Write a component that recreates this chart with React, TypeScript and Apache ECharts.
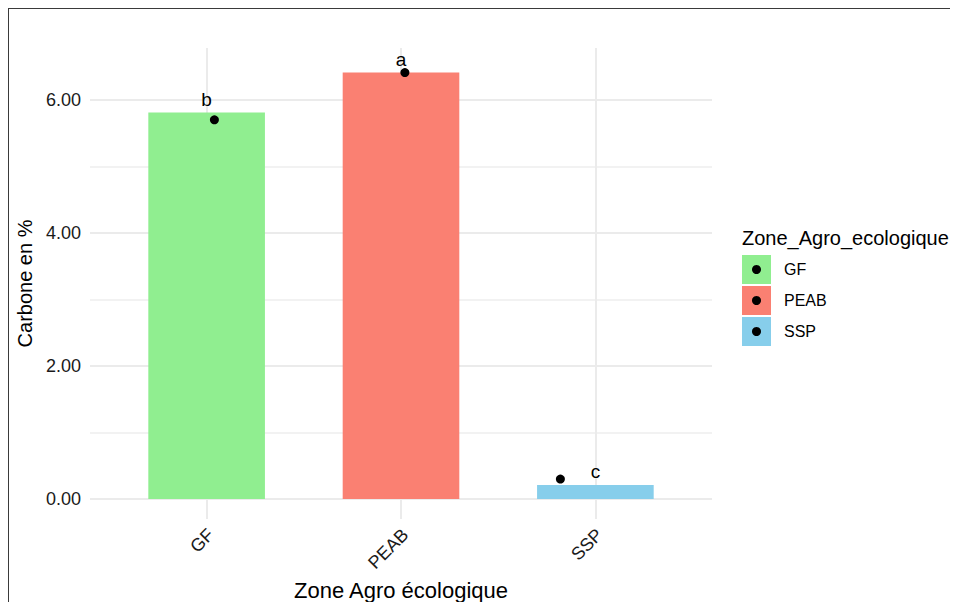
import React, { useEffect, useRef } from "react";
import * as echarts from "echarts";

const categories = ["GF", "PEAB", "SSP"];
const meanValues = [5.81, 6.41, 0.21];
const pointX = [1.04, 2.02, 2.82];
const pointValues = [5.7, 6.41, 0.3];
const letters = ["b", "a", "c"];
const colors = ["#90EE90", "#FA8072", "#87CEEB"];
const yMajor = [0, 2, 4, 6];
const yMinor = [1, 3, 5];
const xPositions = [1, 2, 3];

const FONT = "Liberation Sans, Arial, Helvetica, sans-serif";

export default function App() {
  const ref = useRef<HTMLDivElement>(null);
  useEffect(() => {
    if (!ref.current) return;
    const chart = echarts.init(ref.current, undefined, { renderer: "svg" });

    const legendLeft = 733;
    const legendTop = 246;
    const keyStep = 31;
    const legendChildren: any[] = [
      {
        type: "text",
        x: legendLeft,
        y: 229,
        style: { text: "Zone_Agro_ecologique", font: `20px ${FONT}`, fill: "#000", verticalAlign: "middle" },
      },
    ];
    categories.forEach((c, i) => {
      const top = legendTop + i * keyStep;
      legendChildren.push({
        type: "rect",
        shape: { x: legendLeft, y: top, width: 29, height: 29 },
        style: { fill: colors[i] },
      });
      legendChildren.push({
        type: "circle",
        shape: { cx: legendLeft + 14.5, cy: top + 14.5, r: 4.5 },
        style: { fill: "#000" },
      });
      legendChildren.push({
        type: "text",
        x: legendLeft + 42,
        y: top + 14.5,
        style: { text: c, font: `16px ${FONT}`, fill: "#000", verticalAlign: "middle" },
      });
    });

    const option: any = {
      animation: false,
      textStyle: { fontFamily: FONT },
      grid: { left: 81, top: 39, width: 622, height: 471, containLabel: false, outerBoundsMode: "none" },
      xAxis: {
        type: "value",
        min: 0.4,
        max: 3.6,
        axisLine: { show: false },
        axisTick: { show: false },
        splitLine: { show: false },
        axisLabel: {
          customValues: xPositions,
          formatter: (v: number) => (Number.isInteger(v) ? categories[v - 1] ?? "" : ""),
          rotate: 45,
          fontSize: 18,
          color: "#1a1a1a",
          margin: 17,
          padding: [0, -6, 0, 0],
          fontFamily: FONT,
        },
        name: "Zone Agro écologique",
        nameLocation: "middle",
        nameGap: 52,
        nameTextStyle: { fontSize: 22, color: "#000", fontFamily: FONT },
      },
      yAxis: {
        type: "value",
        min: -0.3,
        max: 6.78,
        axisLine: { show: false },
        axisTick: { show: false },
        splitLine: { show: false },
        axisLabel: {
          customValues: yMajor,
          formatter: (v: number) => v.toFixed(2),
          fontSize: 18,
          color: "#1a1a1a",
          margin: 9,
          fontFamily: FONT,
        },
        name: "Carbone en %",
        nameLocation: "middle",
        nameRotate: 90,
        nameGap: 42,
        nameTextStyle: { fontSize: 20, color: "#000", fontFamily: FONT },
      },
      graphic: [{ type: "group", children: legendChildren }],
      series: [
        {
          type: "line",
          data: [],
          z: 0,
          silent: true,
          markLine: {
            z: 0,
            silent: true,
            symbol: ["none", "none"],
            label: { show: false },
            data: [
              ...yMajor.map((v) => ({ yAxis: v, lineStyle: { color: "#ebebeb", width: 2, type: "solid" } })),
              ...yMinor.map((v) => ({ yAxis: v, lineStyle: { color: "#eeeeee", width: 1.5, type: "solid" } })),
              ...xPositions.map((v) => ({ xAxis: v, lineStyle: { color: "#ebebeb", width: 2, type: "solid" } })),
            ],
          },
        },
        {
          type: "bar",
          z: 2,
          barWidth: "60%",
          data: categories.map((c, i) => ({
            value: [xPositions[i], meanValues[i]],
            itemStyle: { color: colors[i] },
          })),
          label: {
            show: true,
            position: "top",
            distance: 4,
            formatter: (p: any) => letters[p.dataIndex],
            fontSize: 19,
            color: "#000",
            fontFamily: FONT,
          },
        },
        {
          type: "scatter",
          z: 3,
          symbolSize: 9,
          itemStyle: { color: "#000", opacity: 1 },
          data: pointX.map((x, i) => [x, pointValues[i]]),
        },
      ],
    };
    chart.setOption(option);
    return () => chart.dispose();
  }, []);

  return (
    <div
      style={{
        width: 950,
        height: 594,
        boxSizing: "border-box",
        borderTop: "1px solid #3a3a3a",
        borderLeft: "1px solid #3a3a3a",
        background: "#fff",
      }}
    >
      <div ref={ref} style={{ width: 949, height: 593 }} />
    </div>
  );
}
